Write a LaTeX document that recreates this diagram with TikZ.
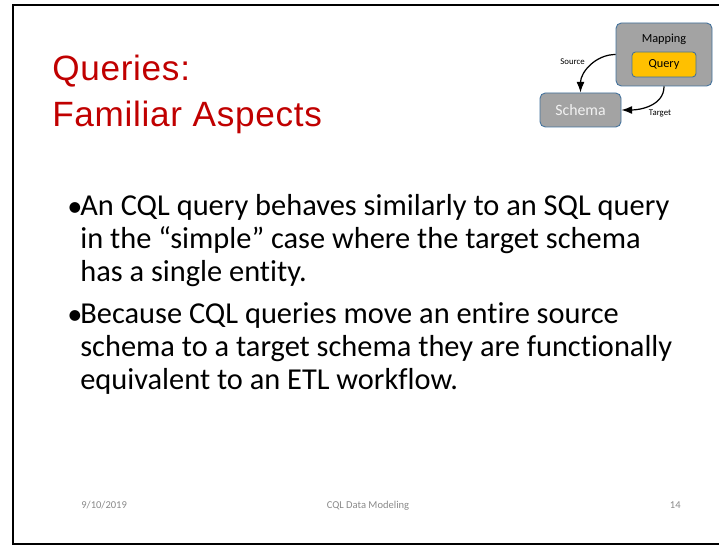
\documentclass[tikz,border=0pt]{standalone}
\usepackage{fontspec}
\setmainfont{Carlito}[Ligatures=NoCommon]
\newfontfamily\titlefont{Liberation Sans}[LetterSpace=2]
\usetikzlibrary{arrows.meta,positioning}
\definecolor{titlered}{RGB}{192,0,0}
\definecolor{boxgray}{RGB}{163,163,163}
\definecolor{boxedge}{RGB}{65,113,156}
\definecolor{querygold}{RGB}{255,192,0}
\definecolor{footgray}{RGB}{137,137,137}

\begin{document}
\begin{tikzpicture}[x=0.02cm,y=-0.02cm,>=Latex,
  box/.style={draw=boxedge,line width=0.5pt,fill=boxgray,rounded corners=3pt,inner sep=0pt},
  flow/.style={->,line width=0.7pt},
  lbl/.style={font=\fontsize{5}{6}\selectfont,inner sep=0pt},
  bul/.style={anchor=base west,inner sep=0pt,font=\fontsize{17.3}{18.8}\selectfont},
  item/.style={anchor=base west,align=left,inner sep=0pt,font=\fontsize{17.3}{18.8}\selectfont},
  foot/.style={text=footgray,inner sep=0pt,anchor=base,font=\fontsize{6}{7}\selectfont}]
\useasboundingbox (0,0) rectangle (719,546);
% slide frame
\draw[line width=0.8pt] (719,5) -- (13,5) -- (13,544) -- (719,544);
% title
\node[anchor=north west,align=left,inner sep=0pt,text=titlered,
  font=\titlefont\fontsize{20}{26}\selectfont] (title) at (52,55) {Queries:\\Familiar Aspects};
% mapping sketch
\node[box,minimum width=1.92cm,minimum height=1.26cm] (mapping) at (664,54.5) {};
\node[font=\fontsize{7}{8}\selectfont,inner sep=0pt] (maplabel) at (664,39) {Mapping};
\node[box,fill=querygold,rounded corners=2pt,minimum width=1.28cm,minimum height=0.5cm,
  font=\fontsize{7}{8}\selectfont] (query) at (664,64.5) {Query};
\node[box,minimum width=1.62cm,minimum height=0.68cm,text=white!95!black,
  font=\fontsize{9}{10}\selectfont] (schema) at (580.5,110) {Schema};
\draw[flow] (mapping.west) to[out=180,in=90] (schema.north);
\draw[flow] (mapping.south) to[out=-90,in=0] (schema.east);
\node[lbl,anchor=east] (srclbl) at (585,62) {Source};
\node[lbl] (tgtlbl) at (660,113) {Target};
% bullets
\node[bul] (dot1) at (67,217) {•};
\node[item] (item1) at (80,282) {An CQL query behaves similarly to an SQL query\\in the “simple” case where the target schema\\has a single entity.};
\node[bul] (dot2) at (67,325) {•};
\node[item] (item2) at (80,390) {Because CQL queries move an entire source\\schema to a target schema they are functionally\\equivalent to an ETL workflow.};
% footer
\node[foot,anchor=base west] (date) at (81,508) {9/10/2019};
\node[foot] (ftitle) at (368,508) {CQL Data Modeling};
\node[foot,anchor=base east] (pageno) at (681,508) {14};
\end{tikzpicture}
\end{document}
